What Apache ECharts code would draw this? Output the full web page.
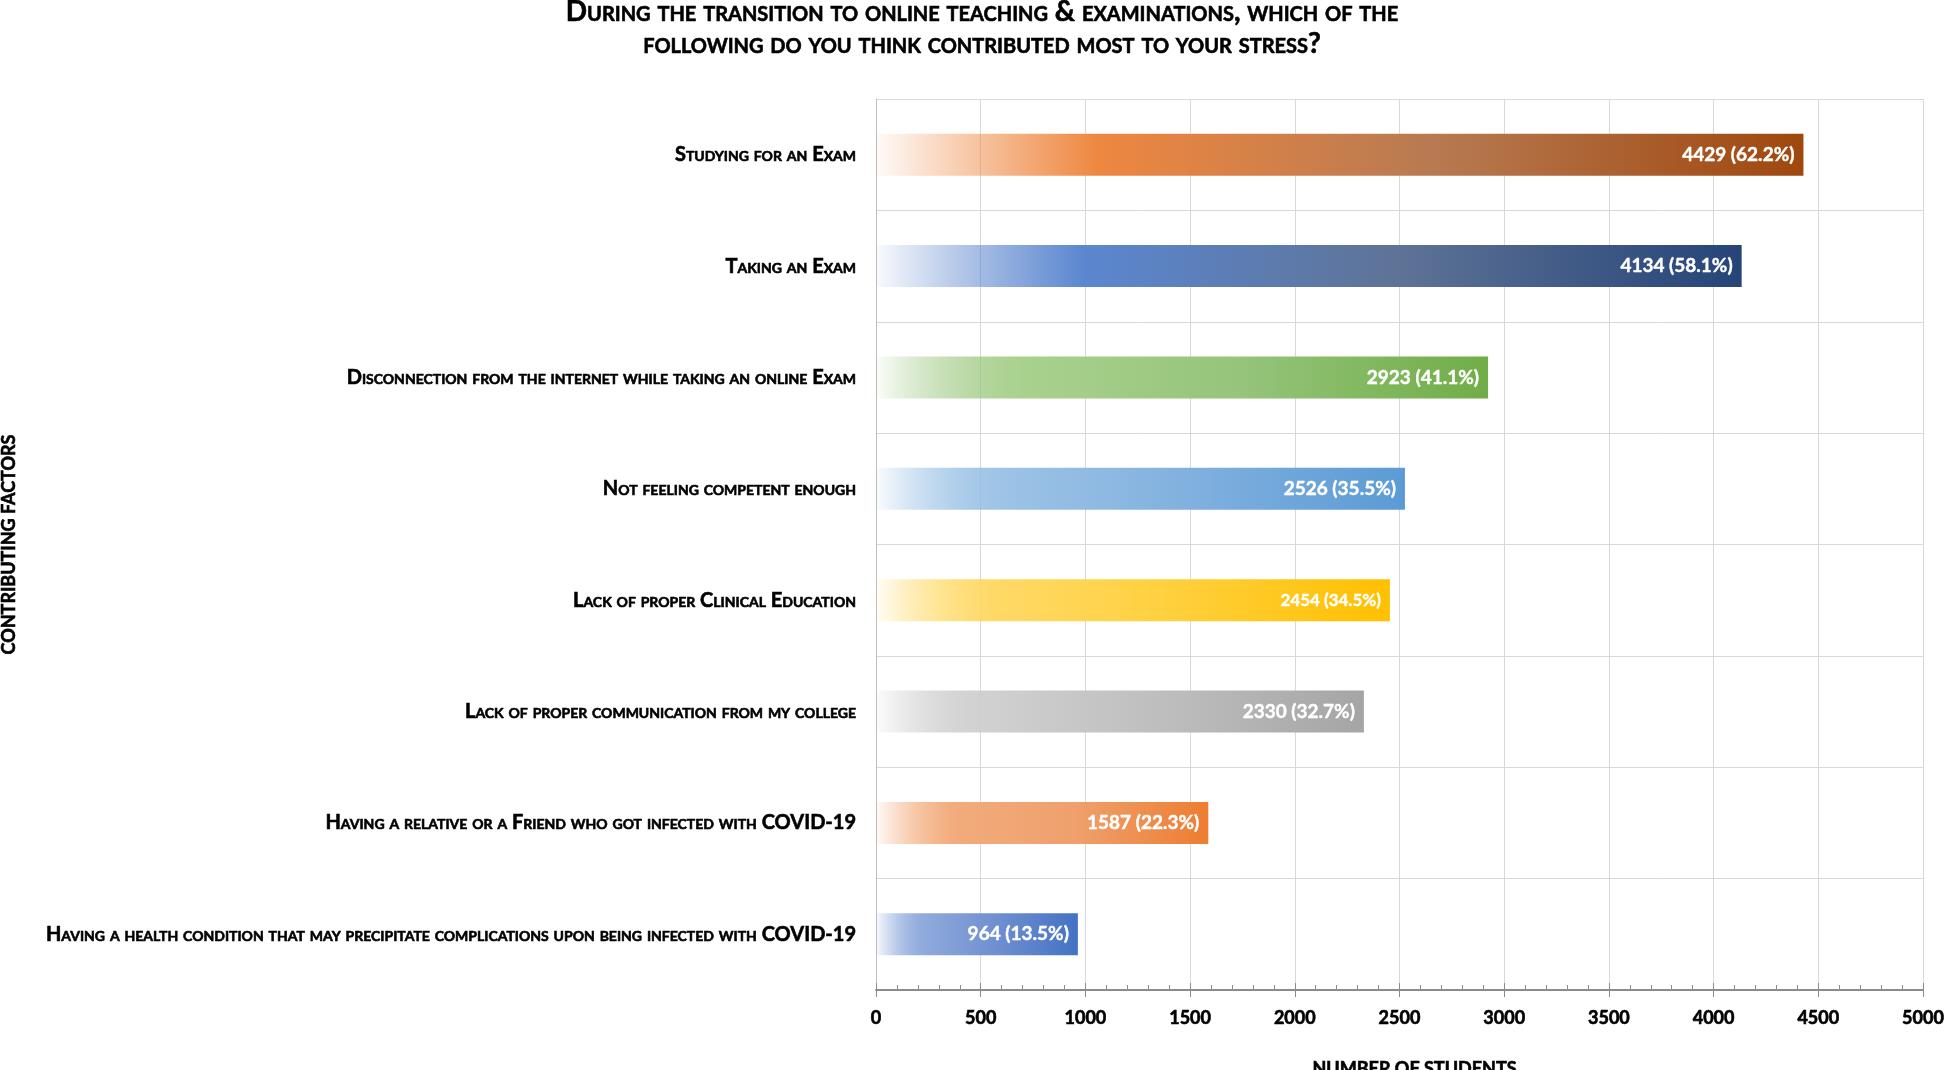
<!DOCTYPE html>
<html><head><meta charset="utf-8">
<script src="https://cdn.jsdelivr.net/npm/echarts@6/dist/echarts.min.js"></script>
<style>html,body{margin:0;padding:0;background:#fff}#c{width:1945px;height:1070px}</style>
</head><body><div id="c"></div>
<script>
const categories = [
  'Studying for an Exam',
  'Taking an Exam',
  'Disconnection from the internet while taking an online Exam',
  'Not feeling competent enough',
  'Lack of proper Clinical Education',
  'Lack of proper communication from my college',
  'Having a relative or a Friend who got infected with COVID-19',
  'Having a health condition that may precipitate complications upon being infected with COVID-19'
];
const counts = [4429, 4134, 2923, 2526, 2454, 2330, 1587, 964];
const percents = [62.2, 58.1, 41.1, 35.5, 34.5, 32.7, 22.3, 13.5];

const startColors = ['rgba(237,125,49,0.03)','rgba(68,114,196,0.03)','rgba(112,173,71,0.03)','rgba(91,155,213,0.03)','rgba(255,192,0,0.03)','rgba(165,165,165,0.03)','rgba(237,125,49,0.03)','rgba(68,114,196,0.03)'];
const peakColors = ['#EE8740','#5B87D0','#A9D18E','#9DC3E6','#FFD966','#D0D0D0','#F2AB7C','#8FAADC'];
const midColors  = ['#B87A52','#5E7396','#95C47A','#80B0DE','#FFCF3A','#BDBDBD','#EFA06C','#6F8FD0'];
const endColors  = ['#9E480E','#264478','#70AD47','#5B9BD5','#FFC000','#A5A5A5','#ED7D31','#4472C4'];

const FONT = 'Lato';
const W = 'bold';
const black = {color: '#000', textBorderColor: '#000', textBorderWidth: 0.6};

const barData = counts.map((v, i) => ({
  value: v,
  itemStyle: {
    color: new echarts.graphic.LinearGradient(0, 0, 1, 0, [
      {offset: 0, color: startColors[i]},
      {offset: 0.24, color: peakColors[i]},
      {offset: 0.6, color: midColors[i]},
      {offset: 1, color: endColors[i]}
    ])
  },
  label: i === 4 ? {fontSize: 17} : undefined
}));

const chart = echarts.init(document.getElementById('c'), null, {renderer: 'canvas'});
chart.setOption({
  backgroundColor: '#fff',
  animation: false,
  title: {
    text: 'During the transition to online teaching & examinations, which of the\nfollowing do you think contributed most to your stress?',
    left: 977, top: -9, textAlign: 'center',
    textStyle: Object.assign({fontFamily: FONT, fontStyle: 'small-caps', fontWeight: W, fontSize: 28, lineHeight: 32}, black)
  },
  grid: {left: 876, right: 22, top: 99, bottom: 80, containLabel: false, outerBoundsMode: 'none'},
  xAxis: [{
    type: 'value', min: 0, max: 5000, interval: 500,
    name: 'NUMBER OF STUDENTS', nameLocation: 'middle', nameGap: 70, nameMoveOverlap: false,
    nameTextStyle: Object.assign({fontFamily: FONT, fontWeight: W, fontSize: 18, padding: [0, 0, 0, 30]}, black),
    axisLine: {show: true, lineStyle: {color: '#8c8c8c', width: 2}},
    axisTick: {show: true, inside: false, length: 7, lineStyle: {color: '#8c8c8c', width: 1}},
    axisLabel: Object.assign({fontFamily: FONT, fontWeight: W, fontSize: 18, margin: 19, formatter: v => String(v)}, black),
    splitLine: {show: true, lineStyle: {color: '#d9d9d9', width: 1}}
  }, {
    type: 'value', min: 0, max: 5000, interval: 500, position: 'bottom',
    axisLine: {show: false},
    axisTick: {show: true, inside: true, length: 7, lineStyle: {color: '#8c8c8c', width: 1}},
    minorTick: {show: true, splitNumber: 5, length: 5, lineStyle: {color: '#8c8c8c', width: 1}},
    axisLabel: {show: false},
    splitLine: {show: false}
  }],
  yAxis: {
    type: 'category', inverse: true, data: categories,
    name: 'CONTRIBUTING FACTORS', nameLocation: 'middle', nameGap: 858, nameRotate: 90, nameMoveOverlap: false,
    nameTextStyle: Object.assign({fontFamily: FONT, fontWeight: W, fontSize: 18}, black),
    axisLine: {show: true, lineStyle: {color: '#bfbfbf', width: 1}},
    axisTick: {show: false},
    axisLabel: Object.assign({fontFamily: FONT, fontStyle: 'small-caps', fontWeight: W, fontSize: 20, margin: 20}, black),
    splitLine: {show: true, lineStyle: {color: '#d9d9d9', width: 1}}
  },
  series: [{
    type: 'bar', xAxisIndex: 0, barWidth: 42,
    data: barData,
    label: {
      show: true, position: 'insideRight', distance: 9,
      fontFamily: FONT, fontWeight: W, fontSize: 19, color: '#fff', textBorderColor: '#fff', textBorderWidth: 0.4,
      formatter: p => counts[p.dataIndex] + ' (' + percents[p.dataIndex].toFixed(1) + '%)'
    }
  }]
});
</script></body></html>
